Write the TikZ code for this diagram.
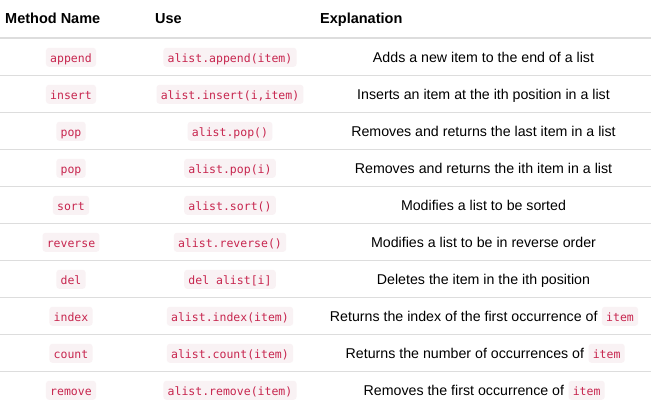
\documentclass[tikz,border=0pt]{standalone}
\usepackage{fontspec}
\setmainfont{Liberation Sans}
\setmonofont{DejaVu Sans Mono}
\definecolor{codered}{HTML}{C7254E}
\definecolor{codebg}{HTML}{F9F2F4}
\definecolor{rulegray}{HTML}{DDDDDD}
\begin{document}
\begin{tikzpicture}[x=1pt,y=-1pt,
  hdr/.style={font=\bfseries\fontsize{14.5}{16}\selectfont, text=black, inner sep=0pt, anchor=base west},
  expl/.style={font=\fontsize{14.2}{16}\selectfont, text=black, inner sep=0pt, anchor=base},
  codebox/.style={font=\ttfamily\fontsize{11.5}{13}\selectfont, text=codered, fill=codebg,
    rounded corners=3pt, inner xsep=4.25pt, inner ysep=0pt, text height=12.5pt, text depth=2.5pt,
    minimum height=19pt, anchor=base},
  rulethin/.style={draw=rulegray, line width=1pt},
  rulethick/.style={draw=rulegray, line width=2pt}]
\useasboundingbox[fill=white] (0,0) rectangle (651,411);

% header
\node[hdr] (h1) at (5,24) {Method Name};
\node[hdr] (h2) at (155,24) {Use};
\node[hdr] (h3) at (320,24) {Explanation};

% rules
\draw[rulethick] (0,38) -- (651,38);
\foreach \k in {0,...,8} {
  \draw[rulethin] (0,75.5+37*\k) -- (651,75.5+37*\k);
}

% row 1
\node[codebox] (m1) at (71,62.3) {append};
\node[codebox] (u1) at (230,62.3) {alist.append(item)};
\node[expl] (e1) at (483.5,62.3) {Adds a new item to the end of a list};
% row 2
\node[codebox] (m2) at (71,99.3) {insert};
\node[codebox] (u2) at (230,99.3) {alist.insert(i,item)};
\node[expl] (e2) at (483.5,99.3) {Inserts an item at the ith position in a list};
% row 3
\node[codebox] (m3) at (71,136.3) {pop};
\node[codebox] (u3) at (230,136.3) {alist.pop()};
\node[expl] (e3) at (483.5,136.3) {Removes and returns the last item in a list};
% row 4
\node[codebox] (m4) at (71,173.3) {pop};
\node[codebox] (u4) at (230,173.3) {alist.pop(i)};
\node[expl] (e4) at (483.5,173.3) {Removes and returns the ith item in a list};
% row 5
\node[codebox] (m5) at (71,210.3) {sort};
\node[codebox] (u5) at (230,210.3) {alist.sort()};
\node[expl] (e5) at (483.5,210.3) {Modifies a list to be sorted};
% row 6
\node[codebox] (m6) at (71,247.3) {reverse};
\node[codebox] (u6) at (230,247.3) {alist.reverse()};
\node[expl] (e6) at (483.5,247.3) {Modifies a list to be in reverse order};
% row 7
\node[codebox] (m7) at (71,284.3) {del};
\node[codebox] (u7) at (230,284.3) {del alist[i]};
\node[expl] (e7) at (483.5,284.3) {Deletes the item in the ith position};
% row 8
\node[codebox] (m8) at (71,321.3) {index};
\node[codebox] (u8) at (230,321.3) {alist.index(item)};
\node[codebox, anchor=base west] (c8) at (601.7,321.3) {item};
\node[expl, anchor=base east] (e8) at ([xshift=-4pt]c8.base west) {Returns the index of the first occurrence of};
% row 9
\node[codebox] (m9) at (71,358.3) {count};
\node[codebox] (u9) at (230,358.3) {alist.count(item)};
\node[codebox, anchor=base west] (c9) at (588.3,358.3) {item};
\node[expl, anchor=base east] (e9) at ([xshift=-4pt]c9.base west) {Returns the number of occurrences of};
% row 10
\node[codebox] (m10) at (71,395.3) {remove};
\node[codebox] (u10) at (230,395.3) {alist.remove(item)};
\node[codebox, anchor=base west] (c10) at (568.3,395.3) {item};
\node[expl, anchor=base east] (e10) at ([xshift=-4pt]c10.base west) {Removes the first occurrence of};
\end{tikzpicture}
\end{document}
